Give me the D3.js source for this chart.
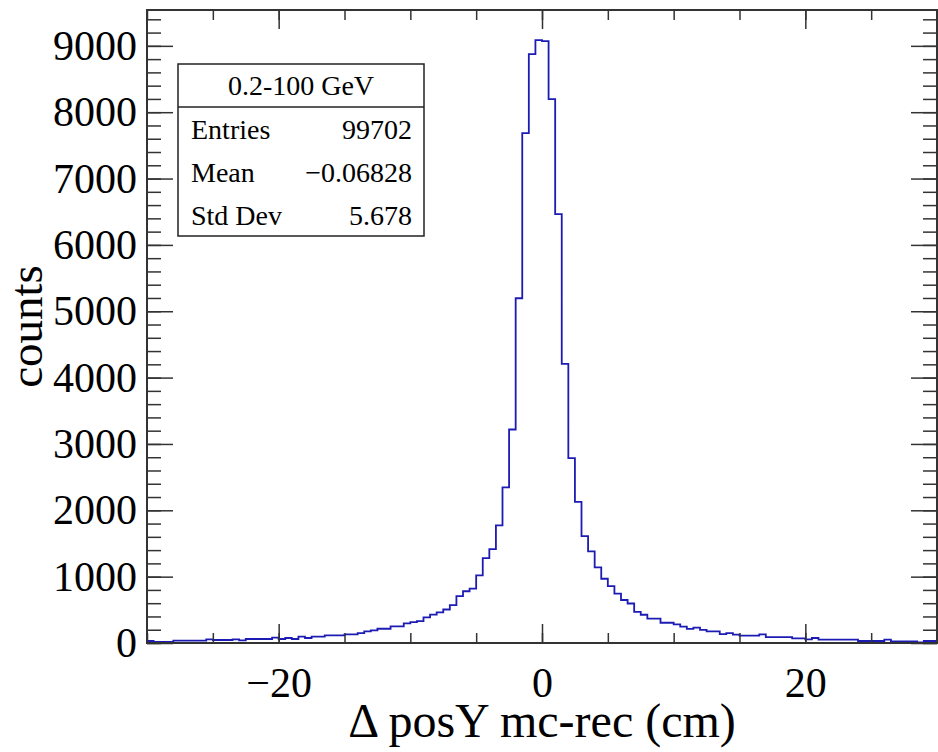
<!DOCTYPE html>
<html>
<head>
<meta charset="utf-8">
<script src="https://cdn.jsdelivr.net/npm/d3@7"></script>
<style>
  body { margin: 0; background: #fff; }
  svg { display: block; }
  text { font-family: "Liberation Serif", "Times New Roman", serif; fill: #000; }
</style>
</head>
<body>
<div id="chart"></div>
<script>
// histogram: 120 bins of 0.5 cm from -30 to 30
const binLow = -30;
const binWidth = 0.5;
const counts = [
  30, 15, 15, 15, 35, 35, 35, 35, 35, 55,
  45, 45, 45, 55, 40, 60, 60, 60, 60, 80,
  60, 75, 60, 95, 75, 95, 95, 115, 115, 115,
  130, 130, 150, 175, 190, 215, 215, 250, 250, 295,
  315, 330, 385, 428, 462, 505, 570, 705, 780, 820,
  1020, 1280, 1416, 1773, 2345, 3218, 5196, 7685, 8875, 9086,
  9071, 8197, 6465, 4206, 2786, 2128, 1611, 1381, 1140, 968,
  858, 745, 648, 595, 468, 426, 366, 366, 305, 305,
  280, 248, 212, 232, 198, 175, 175, 135, 150, 125,
  110, 110, 110, 130, 90, 90, 90, 90, 70, 70,
  55, 75, 50, 50, 50, 50, 50, 50, 30, 30,
  30, 30, 50, 25, 25, 25, 25, 8, 30, 30
];

const xMajorTicks = [-20, 0, 20];
const xMinorTicks = d3.range(-30, 31, 5);
const yMajorTicks = d3.range(0, 9001, 1000);
const yMinorTicks = d3.range(0, 9501, 200);

const statsTitle = "0.2-100 GeV";
const statsRows = [
  ["Entries", "99702"],
  ["Mean", "\u22120.06828"],
  ["Std Dev", "5.678"]
];

const W = 938, H = 752;
const frame = { left: 147, right: 937, top: 10, bottom: 643 };

const svg = d3.select("#chart").append("svg")
  .attr("width", W)
  .attr("height", H);

const x = d3.scaleLinear()
  .domain([binLow, binLow + binWidth * counts.length])
  .range([frame.left, frame.right]);

const y = d3.scaleLinear()
  .domain([0, d3.max(counts) * 1.05])
  .range([frame.bottom, frame.top]);

// histogram outline
const pts = counts.map((c, i) => [binLow + i * binWidth, c]);
pts.push([binLow + counts.length * binWidth, counts[counts.length - 1]]);

const line = d3.line()
  .x(d => x(d[0]))
  .y(d => y(d[1]))
  .curve(d3.curveStepAfter);

svg.append("path")
  .datum(pts)
  .attr("d", line)
  .attr("fill", "none")
  .attr("stroke", "#1c1cb4")
  .attr("stroke-width", 1.8);

// axes, ticks pointing inward on all four sides
const styleAxis = g => {
  g.attr("font-family", null);
  g.select(".domain").remove();
  g.selectAll(".tick line").attr("stroke", "#333").attr("stroke-width", 1.5);
};

const tickFont = "42px";

svg.append("g")
  .attr("transform", `translate(0,${frame.bottom})`)
  .call(d3.axisBottom(x).tickValues(xMinorTicks).tickSize(-10).tickFormat(""))
  .call(styleAxis);

svg.append("g")
  .attr("transform", `translate(0,${frame.bottom})`)
  .call(d3.axisBottom(x).tickValues(xMajorTicks).tickSize(-19).tickPadding(24))
  .call(styleAxis)
  .selectAll("text")
  .style("font-size", tickFont);

svg.append("g")
  .attr("transform", `translate(0,${frame.top})`)
  .call(d3.axisTop(x).tickValues(xMinorTicks).tickSize(-10).tickFormat(""))
  .call(styleAxis);

svg.append("g")
  .attr("transform", `translate(0,${frame.top})`)
  .call(d3.axisTop(x).tickValues(xMajorTicks).tickSize(-19).tickFormat(""))
  .call(styleAxis);

svg.append("g")
  .attr("transform", `translate(${frame.left},0)`)
  .call(d3.axisLeft(y).tickValues(yMinorTicks).tickSize(-14).tickFormat(""))
  .call(styleAxis);

svg.append("g")
  .attr("transform", `translate(${frame.left},0)`)
  .call(d3.axisLeft(y).tickValues(yMajorTicks).tickSize(-26).tickPadding(10).tickFormat(d3.format("d")))
  .call(styleAxis)
  .selectAll("text")
  .style("font-size", tickFont);

svg.append("g")
  .attr("transform", `translate(${frame.right},0)`)
  .call(d3.axisRight(y).tickValues(yMinorTicks).tickSize(-14).tickFormat(""))
  .call(styleAxis);

svg.append("g")
  .attr("transform", `translate(${frame.right},0)`)
  .call(d3.axisRight(y).tickValues(yMajorTicks).tickSize(-26).tickFormat(""))
  .call(styleAxis);

// frame
svg.append("rect")
  .attr("x", frame.left)
  .attr("y", frame.top)
  .attr("width", frame.right - frame.left)
  .attr("height", frame.bottom - frame.top)
  .attr("fill", "none")
  .attr("stroke", "#333")
  .attr("stroke-width", 2);

// axis titles
svg.append("text")
  .attr("x", (frame.left + frame.right) / 2)
  .attr("y", 737)
  .attr("text-anchor", "middle")
  .style("font-size", "48px")
  .text("\u0394 posY mc-rec (cm)");

svg.append("text")
  .attr("transform", `translate(42,${(frame.top + frame.bottom) / 2}) rotate(-90)`)
  .attr("text-anchor", "middle")
  .style("font-size", "47px")
  .text("counts");

// stats box
const box = { x: 178, y: 64, w: 246, h: 172, head: 43 };
const stats = svg.append("g");

stats.append("rect")
  .attr("x", box.x).attr("y", box.y)
  .attr("width", box.w).attr("height", box.h)
  .attr("fill", "#fff")
  .attr("stroke", "#222")
  .attr("stroke-width", 1.5);

stats.append("line")
  .attr("x1", box.x).attr("x2", box.x + box.w)
  .attr("y1", box.y + box.head).attr("y2", box.y + box.head)
  .attr("stroke", "#222")
  .attr("stroke-width", 1.5);

stats.append("text")
  .attr("x", box.x + box.w / 2)
  .attr("y", box.y + 31)
  .attr("text-anchor", "middle")
  .style("font-size", "28px")
  .text(statsTitle);

statsRows.forEach((r, i) => {
  const ty = 139 + i * 43;
  stats.append("text")
    .attr("x", box.x + 13)
    .attr("y", ty)
    .style("font-size", "28px")
    .text(r[0]);
  stats.append("text")
    .attr("x", box.x + box.w - 12)
    .attr("y", ty)
    .attr("text-anchor", "end")
    .style("font-size", "28px")
    .text(r[1]);
});
</script>
</body>
</html>
